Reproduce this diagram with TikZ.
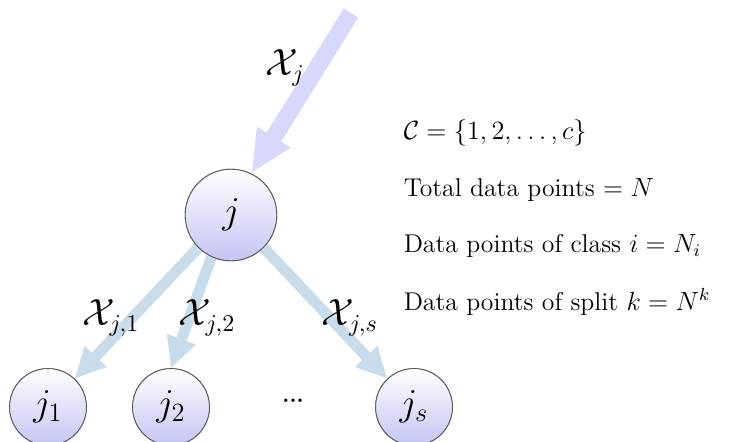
\documentclass[tikz,border=0pt]{standalone}
\usepackage{amsmath}
\usetikzlibrary{arrows.meta}

\definecolor{splitblue}{RGB}{200,220,236}
\definecolor{inlav}{RGB}{216,216,250}
\definecolor{nodelav}{RGB}{196,196,244}

\tikzset{
  treenode/.style={circle,draw=black!65,thin,top color=white,bottom color=nodelav,inner sep=0pt},
  splitarrow/.style={draw=splitblue,line width=5pt,-{Triangle[width=13pt,length=14pt]}},
  inarrow/.style={draw=inlav,line width=7.8pt,-{Triangle[width=16.5pt,length=19.5pt]}},
  lbl/.style={font=\fontsize{16}{18}\selectfont},
  info/.style={anchor=west,font=\fontsize{11.7}{14}\selectfont}
}

\begin{document}
\begin{tikzpicture}[x=0.016cm,y=-0.016cm]
\useasboundingbox (0,0) rectangle (730,441);

% arrows first, so the nodes sit on top of them
\coordinate (src) at (351,13);
\node[treenode,minimum size=41.7pt] (j) at (231,215) {};
\node[treenode,minimum size=35pt] (j1) at (48,407) {};
\node[treenode,minimum size=35pt] (j2) at (171,407) {};
\node[treenode,minimum size=35pt] (js) at (414,407) {};

\draw[inarrow] (src) -- (j.64);
\draw[splitarrow] (j.225) -- (j1);
\draw[splitarrow] (j.245) -- (j2.north);
\draw[splitarrow] (j.-45) -- (js);

% redraw the nodes over the arrow tails
\node[treenode,minimum size=41.7pt] at (j) {\LARGE $j$};
\node[treenode,minimum size=35pt] at (j1) {\LARGE $j_1$};
\node[treenode,minimum size=35pt] at (j2) {\LARGE $j_2$};
\node[treenode,minimum size=35pt] at (js) {\LARGE $j_s$};
\node (dots) at (293,401) {\textbf{...}};

\node[lbl] (xj) at (285,68) {$\mathcal{X}_j$};
\node[lbl] (xj1) at (111,318) {$\mathcal{X}_{j,1}$};
\node[lbl] (xj2) at (207,318) {$\mathcal{X}_{j,2}$};
\node[lbl] (xjs) at (350,318) {$\mathcal{X}_{j,s}$};

\node[info] (cset) at (396,133) {$\mathcal{C}=\{1,2,\ldots,c\}$};
\node[info] (total) at (396,190) {Total data points $=N$};
\node[info] (classpts) at (396,246) {Data points of class $i=N_i$};
\node[info] (splitpts) at (396,302) {Data points of split $k=N^k$};

\end{tikzpicture}
\end{document}
